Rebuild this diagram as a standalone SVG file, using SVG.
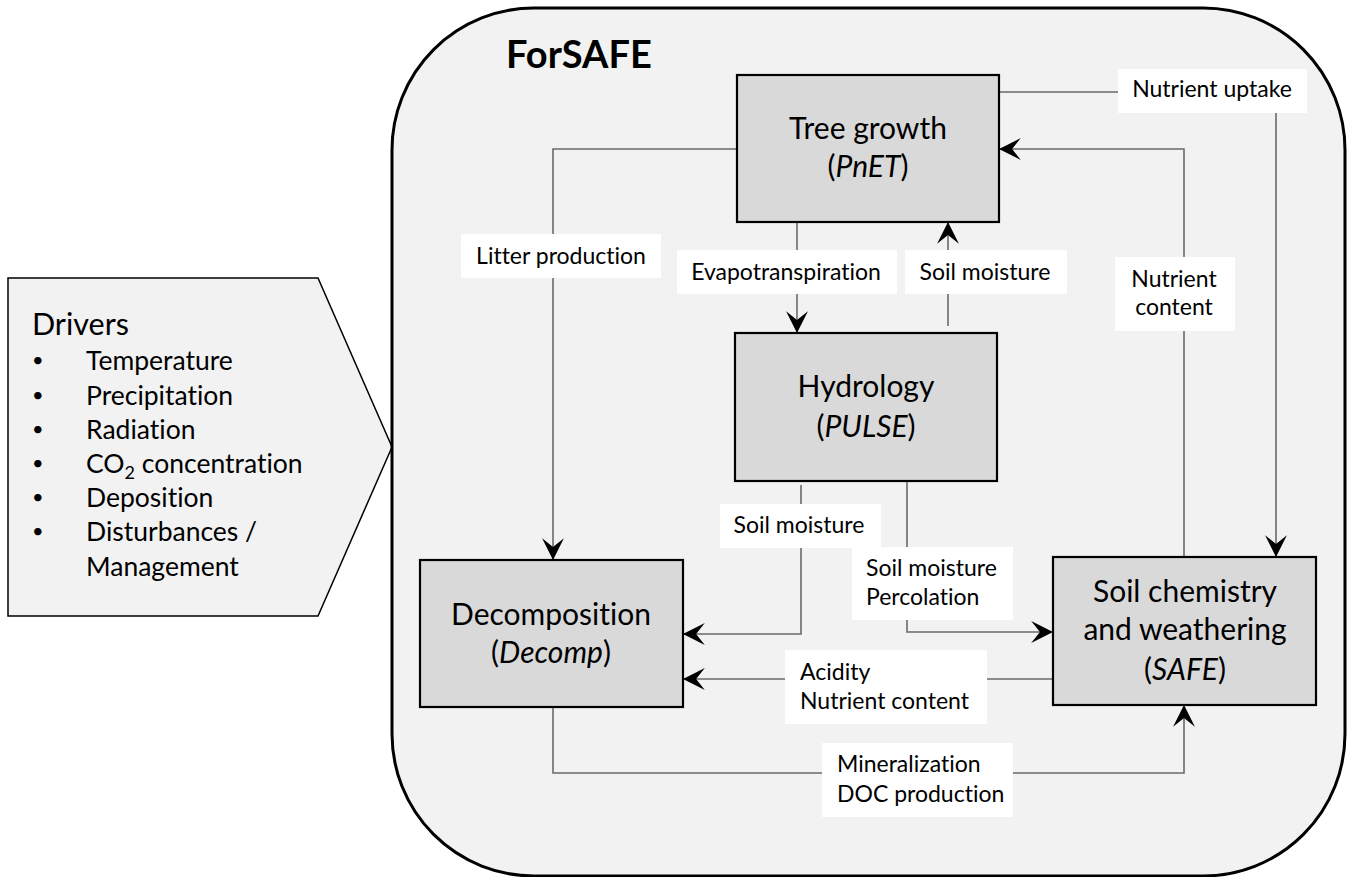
<svg xmlns="http://www.w3.org/2000/svg" width="1349" height="877" viewBox="0 0 1349 877">
<style>
text{font-family:Lato,"Open Sans",sans-serif;fill:#000;font-variant-ligatures:none}
.node rect{fill:#d9d9d9;stroke:#000;stroke-width:2.2}
.nt{font-size:30px;text-anchor:middle}
.lb rect{fill:#fff}
.lt{font-size:23px}
.c{text-anchor:middle}
.con path{fill:none;stroke:#6a6a6a;stroke-width:1.6}
.arr{marker-end:url(#ah)}
.drv{font-size:26.5px}
.bul{font-size:20px}
</style>
<defs>
<marker id="ah" markerUnits="userSpaceOnUse" markerWidth="24" markerHeight="24" viewBox="-21 -11 22 22" refX="0" refY="0" orient="auto">
<path d="M0,0 L-20,-10 L-12,0 L-20,10 Z" fill="#000"/>
</marker>
</defs>
<rect width="1349" height="877" fill="#fff"/>
<g id="drivers">
<polygon points="8,278 318,278 392,447 318,616 8,616" fill="#f2f2f2" stroke="#000" stroke-width="1.5"/>
<text x="32" y="335" font-size="30.5">Drivers</text>
<g class="drv">
<text class="bul" x="32" y="367">•</text><text x="86" y="370">Temperature</text>
<text class="bul" x="32" y="402">•</text><text x="86" y="405">Precipitation</text>
<text class="bul" x="32" y="436">•</text><text x="86" y="439">Radiation</text>
<text class="bul" x="32" y="470">•</text><text x="86" y="473">CO<tspan font-size="18" dy="6">2</tspan><tspan dy="-6"> concentration</tspan></text>
<text class="bul" x="32" y="504">•</text><text x="86" y="507">Deposition</text>
<text class="bul" x="32" y="538">•</text><text x="86" y="541">Disturbances /</text>
<text x="86" y="576">Management</text>
</g>
</g>
<g id="forsafe">
<rect x="392" y="8" width="953" height="868" rx="142" ry="142" fill="#f2f2f2" stroke="#000" stroke-width="3"/>
<text x="506" y="68" font-size="38" font-weight="bold">ForSAFE</text>
</g>
<g id="connectors" class="con">
<path class="arr" d="M737,149 H553 V560"/>
<path class="arr" d="M797,222 V333"/>
<path class="arr" d="M948,326 V222"/>
<path class="arr" d="M1184,557 V149 H999"/>
<path class="arr" d="M999,92 H1276 V557"/>
<path class="arr" d="M801,485 V634 H683"/>
<path class="arr" d="M907,481 V632 H1053"/>
<path class="arr" d="M1053,679 H683"/>
<path class="arr" d="M553,707 V773 H1184 V705"/>
</g>
<g id="labels" class="lb">
<g id="lbl-litter"><rect x="461" y="234" width="200" height="44"/><text class="lt c" x="561" y="264">Litter production</text></g>
<g id="lbl-evap"><rect x="677" y="250" width="220" height="44"/><text class="lt c" x="786" y="280">Evapotranspiration</text></g>
<g id="lbl-sm1"><rect x="905" y="250" width="162" height="44"/><text class="lt c" x="985" y="280">Soil moisture</text></g>
<g id="lbl-nu"><rect x="1118" y="69" width="189" height="44"/><text class="lt c" x="1212" y="97">Nutrient uptake</text></g>
<g id="lbl-nc"><rect x="1115" y="257" width="120" height="74"/><text class="lt c" x="1174" y="287">Nutrient</text><text class="lt c" x="1174" y="315">content</text></g>
<g id="lbl-sm2"><rect x="720" y="504" width="161" height="44"/><text class="lt c" x="799" y="533">Soil moisture</text></g>
<g id="lbl-smp"><rect x="852" y="547" width="161" height="73"/><text class="lt" x="866" y="576">Soil moisture</text><text class="lt" x="866" y="605">Percolation</text></g>
<g id="lbl-acid"><rect x="785" y="650" width="202" height="74"/><text class="lt" x="800" y="680">Acidity</text><text class="lt" x="800" y="709">Nutrient content</text></g>
<g id="lbl-min"><rect x="822" y="743" width="191" height="74"/><text class="lt" x="837" y="772">Mineralization</text><text class="lt" x="837" y="802">DOC production</text></g>
</g>
<g id="tree" class="node"><rect x="737" y="75" width="262" height="147"/><text class="nt" x="868" y="139">Tree growth</text><text class="nt" x="868" y="177">(<tspan font-style="italic">PnET</tspan>)</text></g>
<g id="hydrology" class="node"><rect x="735" y="333" width="262" height="148"/><text class="nt" x="866" y="397">Hydrology</text><text class="nt" x="866" y="437">(<tspan font-style="italic">PULSE</tspan>)</text></g>
<g id="decomposition" class="node"><rect x="420" y="560" width="263" height="147"/><text class="nt" x="551" y="625">Decomposition</text><text class="nt" x="551" y="663">(<tspan font-style="italic">Decomp</tspan>)</text></g>
<g id="soilchem" class="node"><rect x="1053" y="557" width="263" height="148"/><text class="nt" x="1185" y="602">Soil chemistry</text><text class="nt" x="1185" y="640">and weathering</text><text class="nt" x="1185" y="680">(<tspan font-style="italic">SAFE</tspan>)</text></g>
</svg>
